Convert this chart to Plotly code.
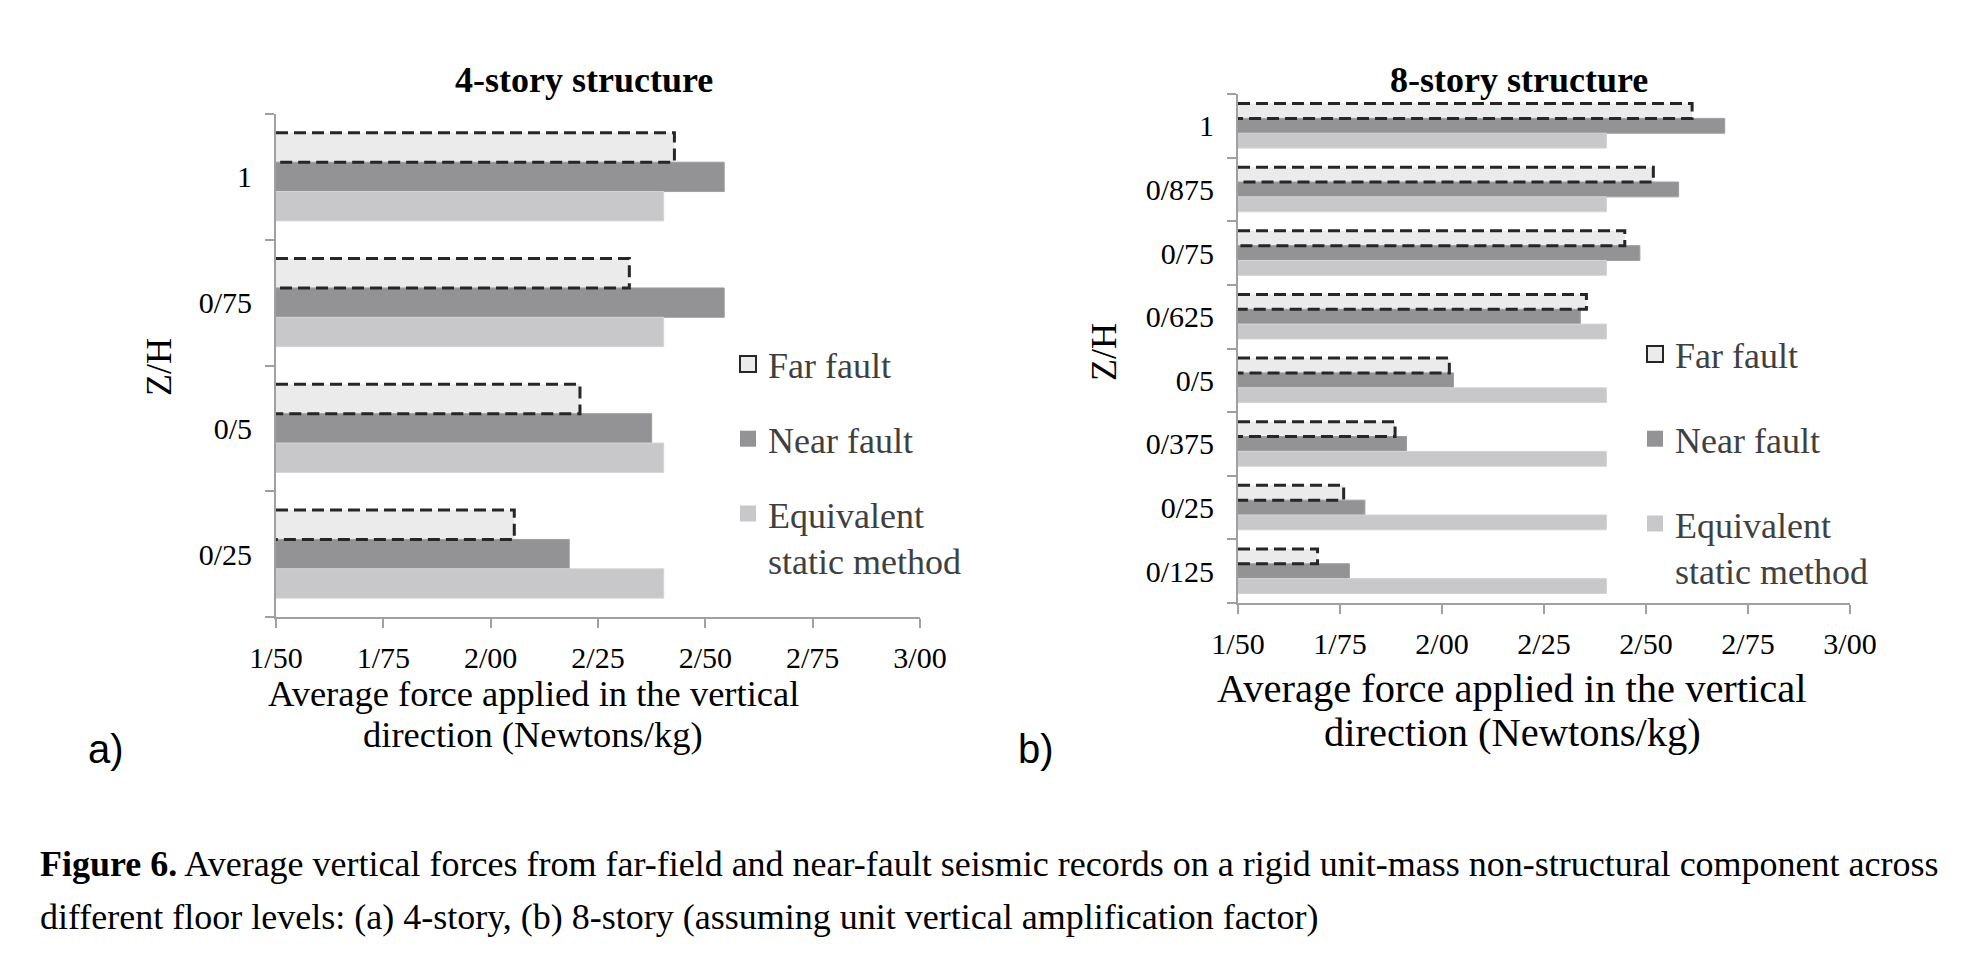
import plotly.graph_objects as go

# ---- data (decimal separator is "/") ----
# 4-story structure
zh_4 = ["0/25", "0/5", "0/75", "1"]
far_4 = [2.055, 2.208, 2.323, 2.428]
near_4 = [2.183, 2.375, 2.544, 2.544]
equiv_4 = [2.403, 2.403, 2.403, 2.403]

# 8-story structure
zh_8 = ["0/125", "0/25", "0/375", "0/5", "0/625", "0/75", "0/875", "1"]
far_8 = [1.695, 1.759, 1.885, 2.018, 2.354, 2.448, 2.518, 2.613]
near_8 = [1.773, 1.811, 1.913, 2.028, 2.339, 2.485, 2.580, 2.693]
equiv_8 = [2.403, 2.403, 2.403, 2.403, 2.403, 2.403, 2.403, 2.403]

x_ticks = [1.5, 1.75, 2.0, 2.25, 2.5, 2.75, 3.0]
x_labels = ["1/50", "1/75", "2/00", "2/25", "2/50", "2/75", "3/00"]

# ---- style ----
SERIF = "Liberation Serif, Times New Roman, serif"
SANS = "Liberation Sans, Arial, sans-serif"
FAR_C = "#ebebeb"
NEAR_C = "#939395"
EQ_C = "#c8c8ca"
AXIS_C = "#a0a0a0"
W = 0.7 / 3  # bar thickness in category units
X0 = x_ticks[0]
W_PX, H_PX = 1983, 963
BODY = 8  # default page margin around the plot div


def fx(v):
    return (v - BODY) / W_PX


def fy(v):
    return 1 - (v - BODY) / H_PX


fig = go.Figure()


def add_panel(cats, far, near, equiv, xa, ya, yo, legend):
    common = dict(orientation="h", xaxis=xa, yaxis=ya, showlegend=False,
                  hoverinfo="x+y")
    fig.add_trace(go.Bar(y=cats, x=far, offset=W / 2, width=W,
                         marker=dict(color=FAR_C, line=dict(width=0)),
                         name="Far fault", **common))
    fig.add_trace(go.Bar(y=cats, x=near, offset=-W / 2, width=W,
                         marker=dict(color=NEAR_C, line=dict(width=1, color="#9e9ea0")),
                         name="Near fault", **common))
    fig.add_trace(go.Bar(y=cats, x=equiv, offset=-1.5 * W, width=W,
                         marker=dict(color=EQ_C, line=dict(width=1, color="#d4d4d6")),
                         name="Equivalent static method", **common))
    # dashed outline of the far-fault bars (top, right, bottom edges)
    ox, oy = [], []
    for i, v in enumerate(far):
        top, bot = i + 1.5 * W, i + 0.5 * W
        ox += [X0, v, v, X0, None]
        oy += [top, top, bot, bot, None]
    fig.add_trace(go.Scatter(x=ox, y=oy, mode="lines", xaxis=xa, yaxis=yo,
                             line=dict(color="#262626", width=3, dash="12px,6px"),
                             showlegend=False, hoverinfo="skip", cliponaxis=False))
    # legend entries
    fig.add_trace(go.Scatter(x=[None], y=[None], mode="markers", name="Far fault",
                             xaxis=xa, yaxis=ya, legend=legend, legendrank=1,
                             legendgroup="a",
                             marker=dict(symbol="square", size=18, color=FAR_C,
                                         line=dict(color="#262626", width=2))))
    fig.add_trace(go.Scatter(x=[None], y=[None], mode="markers", name="Near fault",
                             xaxis=xa, yaxis=ya, legend=legend, legendrank=2,
                             legendgroup="b",
                             marker=dict(symbol="square", size=18, color=NEAR_C,
                                         line=dict(width=0))))
    fig.add_trace(go.Scatter(x=[None], y=[None], mode="markers",
                             name="Equivalent<br>static method",
                             xaxis=xa, yaxis=ya, legend=legend, legendrank=3,
                             legendgroup="c",
                             marker=dict(symbol="square", size=18, color=EQ_C,
                                         line=dict(width=0))))


add_panel(zh_4, far_4, near_4, equiv_4, "x", "y", "y3", "legend")
add_panel(zh_8, far_8, near_8, equiv_8, "x2", "y2", "y4", "legend2")


def xaxis(domain, anchor):
    return dict(domain=domain, anchor=anchor, range=[x_ticks[0], x_ticks[-1]],
                tickvals=x_ticks, ticktext=x_labels, ticks="outside", ticklen=9,
                tickwidth=2, tickcolor=AXIS_C, showline=True, linecolor=AXIS_C,
                linewidth=2, showgrid=False, zeroline=False, fixedrange=True,
                ticklabelstandoff=4,
                tickfont=dict(family=SERIF, size=30, color="#000"))


def yaxis(domain, anchor, cats):
    return dict(domain=domain, anchor=anchor, type="category",
                categoryorder="array", categoryarray=cats,
                range=[-0.5, len(cats) - 0.5], tickson="boundaries",
                ticks="outside", ticklen=9, tickwidth=2, tickcolor=AXIS_C,
                showline=True, linecolor=AXIS_C, linewidth=2, showgrid=False,
                zeroline=False, fixedrange=True, ticklabelstandoff=16,
                tickfont=dict(family=SERIF, size=30, color="#000"))


legend_style = dict(xanchor="left", yanchor="top", valign="top",
                    bgcolor="rgba(0,0,0,0)", traceorder="grouped",
                    font=dict(family=SERIF, size=36, color="#404040"))

fig.update_layout(
    width=W_PX, height=H_PX,
    margin=dict(l=0, r=0, t=0, b=0, autoexpand=False),
    paper_bgcolor="white", plot_bgcolor="white",
    barmode="overlay",
    xaxis=xaxis([fx(276), fx(920)], "y"),
    yaxis=yaxis([fy(617), fy(114)], "x", zh_4),
    yaxis3=dict(overlaying="y", anchor="x", range=[-0.5, len(zh_4) - 0.5],
                visible=False, fixedrange=True),
    xaxis2=xaxis([fx(1238), fx(1850)], "y2"),
    yaxis2=yaxis([fy(603), fy(94)], "x2", zh_8),
    yaxis4=dict(overlaying="y2", anchor="x2", range=[-0.5, len(zh_8) - 0.5],
                visible=False, fixedrange=True),
    legend=dict(x=fx(728), y=fy(334), tracegroupgap=25, **legend_style),
    legend2=dict(x=fx(1635), y=fy(324), tracegroupgap=35, **legend_style),
)

ann = []


def text(x, y, s, size, family=SERIF, xanchor="center", angle=0, color="#000"):
    ann.append(dict(x=fx(x), y=fy(y), xref="paper", yref="paper",
                    text=s, showarrow=False, xanchor=xanchor, yanchor="middle",
                    textangle=angle, font=dict(family=family, size=size, color=color)))


# panel titles
text(584, 80, "<b>4-story structure</b>", 36)
text(1519, 80, "<b>8-story structure</b>", 36)
# y-axis titles
text(159, 367, "Z/H", 36, angle=-90)
text(1104, 352, "Z/H", 36, angle=-90)
# x-axis titles
text(533, 693, "Average force applied in the vertical", 36.5)
text(533, 734, "direction (Newtons/kg)", 36.5)
text(1512, 688, "Average force applied in the vertical", 40.5)
text(1512, 732, "direction (Newtons/kg)", 40.5)
# panel letters
text(86, 749, "a)", 40, family=SANS, xanchor="left")
text(1016, 749, "b)", 40, family=SANS, xanchor="left")
# caption
text(38, 864, "<b>Figure 6.</b> Average vertical forces from far-field and near-fault seismic "
     "records on a rigid unit-mass non-structural component across", 36, xanchor="left")
text(38, 917, "different floor levels: (a) 4-story, (b) 8-story (assuming unit vertical "
     "amplification factor)", 36, xanchor="left")

fig.update_layout(annotations=ann)

fig.write_html("out.html")
